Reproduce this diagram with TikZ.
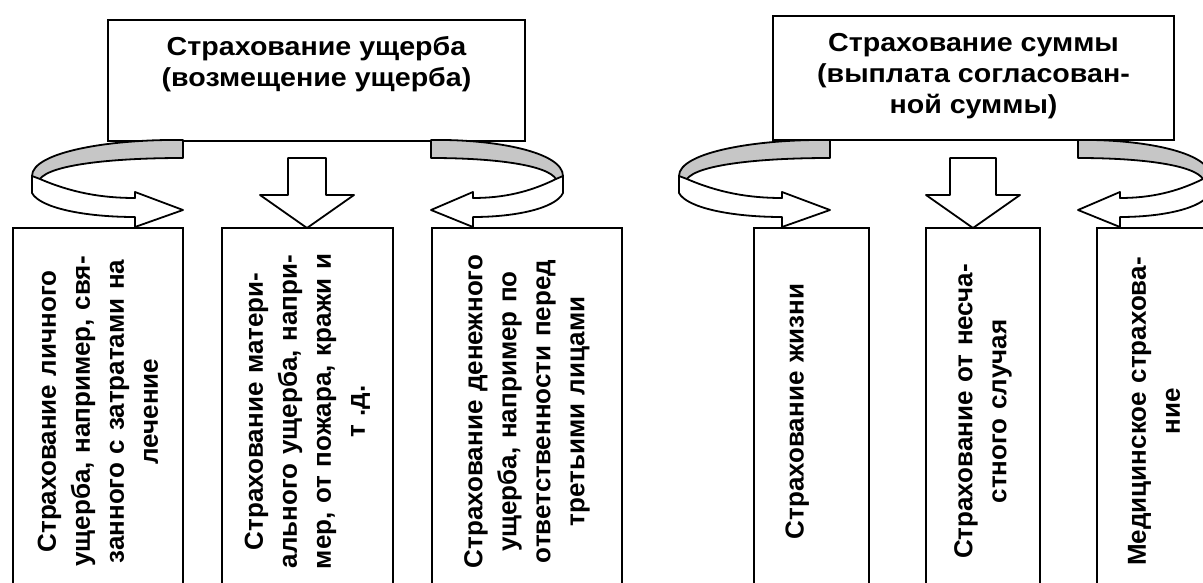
\documentclass[tikz,border=0pt]{standalone}
\usepackage{fontspec}
\setmainfont{Liberation Sans}
\newfontfamily\headfont{Liberation Sans}[FakeStretch=1.1]
\usetikzlibrary{positioning}

\tikzset{
  boxframe/.style={draw, line width=1.8pt, fill=white, inner sep=0pt},
  headtext/.style={font=\headfont\bfseries\fontsize{26}{31}\selectfont, align=center, inner sep=0pt},
  leaf/.style={boxframe, rotate=90, minimum width=367pt, text width=360pt, align=center,
    font=\bfseries\fontsize{26}{34}\selectfont},
  ribbon/.style={draw, line width=1.8pt, line join=round},
}

\begin{document}
\begin{tikzpicture}[x=1pt, y=-1pt]
  \useasboundingbox (0,0) rectangle (1203,583);
  \clip (0,0) rectangle (1203,583);
  % top boxes
  \node[boxframe, minimum width=417pt, minimum height=121pt] (dmg) at (316.5,80.5) {};
  \node[headtext, below=17pt of dmg.north] (dmgtxt) {Страхование ущерба\\(возмещение ущерба)};
  \node[boxframe, minimum width=401pt, minimum height=124pt] (sum) at (973.5,78) {};
  \node[headtext, below=18pt of sum.north] (sumtxt) {Страхование суммы\\(выплата согласован-\\ной суммы)};
  % lower boxes
  \node[leaf, minimum height=170pt] (pers) at (98,411.5) {Страхование личного\\ущерба, например, свя-\\занного с затратами на\\лечение};
  \node[leaf, minimum height=171pt] (mat) at (307.5,411.5) {Страхование матери-\\ального ущерба, напри-\\мер, от пожара, кражи и\\т .д.};
  \node[leaf, minimum height=190pt] (money) at (527,411.5) {Страхование денежного\\ущерба, например по\\ответственности перед\\третьими лицами};
  \node[leaf, minimum height=115pt] (life) at (811.5,411.5) {Страхование жизни\\\mbox{}};
  \node[leaf, minimum height=114pt] (acc) at (983,411.5) {Страхование от несча-\\стного случая};
  \node[leaf, minimum height=114pt] (med) at (1154,411.5) {Медицинское страхова-\\ние};
  % curved arrows
  \foreach \ex/\sx in {183/1, 431/-0.874, 830/1, 1078/-0.874}
  {
    \begin{scope}[shift={(\ex,0)}, xscale=\sx]
      \fill[gray!45] (0,140) .. controls (-73,139) and (-151,152) .. (-151,176) -- (-143,179)
        .. controls (-133,165) and (-73,158) .. (0,158) -- cycle;
      \draw[ribbon, fill=white] (-151,176) -- (-151,193) .. controls (-143,208) and (-98,217) .. (-48,217)
        -- (-48,227) -- (0,210) -- (-48,192) -- (-48,198) .. controls (-83,198) and (-113,192) .. (-143,179) -- cycle;
      \draw[ribbon] (-151,176) .. controls (-151,152) and (-73,139) .. (0,140) -- (0,158)
        .. controls (-73,158) and (-133,165) .. (-143,179);
    \end{scope}
  }
  % straight arrows
  \foreach \cx/\sw in {307/19, 973/23}
    \draw[ribbon, fill=white] (\cx-\sw,158) -- (\cx+\sw,158) -- (\cx+\sw,195) -- (\cx+47,195)
      -- (\cx,228) -- (\cx-47,195) -- (\cx-\sw,195) -- cycle;
\end{tikzpicture}
\end{document}
